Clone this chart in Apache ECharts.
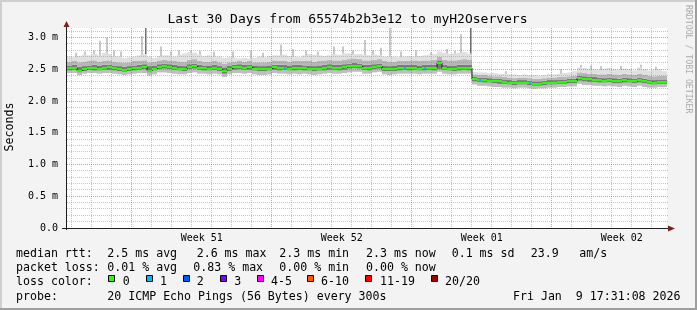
<!DOCTYPE html>
<html><head><meta charset="utf-8">
<script src="https://cdn.jsdelivr.net/npm/echarts@6/dist/echarts.min.js"></script>
<style>html,body{margin:0;padding:0;background:#f3f3f3}#c{width:697px;height:310px}</style>
</head><body><div id="c"></div>
<script>
// ---------- data (one sample per 6 hours, 30 days) ----------
const STEP_DAYS = 0.25;
const median = [
 2.52,2.52,2.48,2.50,2.52,2.52,2.51,2.52,2.53,2.52,
 2.50,2.49,2.50,2.52,2.52,2.54,2.48,2.51,2.54,2.55,
 2.54,2.52,2.51,2.50,2.54,2.55,2.52,2.52,2.51,2.52,
 2.50,2.47,2.51,2.53,2.53,2.52,2.53,2.51,2.50,2.50,
 2.51,2.53,2.52,2.52,2.51,2.52,2.52,2.52,2.51,2.50,
 2.51,2.52,2.53,2.52,2.52,2.53,2.55,2.55,2.55,2.52,
 2.52,2.54,2.55,2.50,2.50,2.51,2.52,2.52,2.52,2.52,
 2.51,2.52,2.52,2.52,2.60,2.52,2.51,2.51,2.52,2.52,
 2.52,2.34,2.33,2.33,2.32,2.31,2.31,2.30,2.29,2.28,
 2.29,2.29,2.28,2.27,2.27,2.28,2.29,2.29,2.30,2.30,
 2.31,2.31,2.36,2.34,2.34,2.33,2.33,2.32,2.33,2.32,
 2.31,2.33,2.32,2.31,2.33,2.31,2.30,2.29,2.30,2.30];
const smokeMin = [
 2.44,2.44,2.41,2.43,2.44,2.44,2.43,2.44,2.44,2.43,
 2.42,2.41,2.42,2.43,2.44,2.44,2.40,2.42,2.45,2.45,
 2.44,2.43,2.42,2.42,2.44,2.45,2.43,2.43,2.42,2.43,
 2.42,2.38,2.42,2.44,2.44,2.43,2.44,2.42,2.41,2.41,
 2.42,2.44,2.43,2.43,2.42,2.43,2.42,2.43,2.42,2.41,
 2.42,2.43,2.44,2.43,2.43,2.44,2.45,2.46,2.46,2.43,
 2.43,2.45,2.46,2.42,2.41,2.42,2.43,2.43,2.43,2.43,
 2.42,2.43,2.43,2.43,2.46,2.43,2.42,2.42,2.43,2.43,
 2.43,2.26,2.24,2.24,2.23,2.22,2.22,2.21,2.21,2.20,
 2.21,2.21,2.20,2.19,2.20,2.20,2.21,2.21,2.22,2.22,
 2.23,2.23,2.27,2.25,2.25,2.24,2.24,2.23,2.24,2.23,
 2.22,2.24,2.23,2.22,2.24,2.22,2.21,2.21,2.22,2.22];
const smokeCoreLow = [
 2.48,2.49,2.45,2.47,2.49,2.48,2.48,2.49,2.49,2.48,
 2.47,2.46,2.47,2.48,2.49,2.50,2.45,2.48,2.50,2.51,
 2.50,2.49,2.48,2.47,2.50,2.51,2.49,2.48,2.48,2.49,
 2.47,2.43,2.47,2.49,2.50,2.49,2.49,2.48,2.47,2.47,
 2.48,2.49,2.48,2.49,2.48,2.48,2.49,2.48,2.48,2.47,
 2.48,2.48,2.49,2.49,2.48,2.49,2.51,2.52,2.51,2.49,
 2.48,2.50,2.51,2.47,2.47,2.47,2.48,2.49,2.48,2.49,
 2.48,2.48,2.49,2.48,2.50,2.49,2.48,2.47,2.48,2.49,
 2.48,2.31,2.30,2.29,2.29,2.28,2.27,2.27,2.26,2.25,
 2.26,2.26,2.25,2.24,2.24,2.25,2.26,2.26,2.27,2.27,
 2.28,2.28,2.32,2.31,2.30,2.30,2.29,2.29,2.30,2.28,
 2.28,2.29,2.29,2.28,2.29,2.28,2.27,2.26,2.27,2.27];
const smokeCoreHigh = [
 2.56,2.57,2.54,2.55,2.56,2.57,2.56,2.57,2.57,2.56,
 2.55,2.54,2.55,2.56,2.57,2.58,2.55,2.56,2.58,2.59,
 2.58,2.57,2.56,2.55,2.58,2.59,2.57,2.56,2.56,2.57,
 2.55,2.53,2.56,2.57,2.58,2.57,2.57,2.56,2.55,2.55,
 2.56,2.57,2.57,2.57,2.56,2.57,2.57,2.56,2.56,2.55,
 2.56,2.57,2.58,2.57,2.57,2.58,2.59,2.60,2.59,2.57,
 2.57,2.58,2.59,2.56,2.55,2.56,2.57,2.57,2.57,2.57,
 2.56,2.57,2.57,2.57,2.64,2.57,2.56,2.56,2.57,2.57,
 2.57,2.38,2.37,2.37,2.36,2.35,2.35,2.34,2.33,2.32,
 2.33,2.33,2.32,2.31,2.31,2.32,2.33,2.33,2.34,2.34,
 2.35,2.35,2.40,2.39,2.38,2.38,2.37,2.36,2.37,2.36,
 2.35,2.37,2.36,2.35,2.37,2.35,2.34,2.33,2.34,2.34];
const smokeUpper = [
 2.62,2.63,2.61,2.62,2.63,2.64,2.62,2.63,2.64,2.62,
 2.61,2.60,2.61,2.63,2.63,2.64,2.61,2.62,2.64,2.65,
 2.64,2.63,2.62,2.62,2.65,2.66,2.63,2.62,2.62,2.63,
 2.61,2.59,2.61,2.62,2.63,2.62,2.63,2.61,2.61,2.61,
 2.62,2.64,2.63,2.63,2.62,2.63,2.63,2.63,2.63,2.62,
 2.63,2.64,2.65,2.64,2.64,2.65,2.66,2.67,2.66,2.64,
 2.64,2.65,2.66,2.63,2.62,2.62,2.63,2.63,2.63,2.64,
 2.63,2.64,2.64,2.65,2.70,2.65,2.64,2.64,2.65,2.66,
 2.65,2.42,2.41,2.41,2.40,2.39,2.39,2.38,2.37,2.36,
 2.37,2.37,2.36,2.35,2.35,2.36,2.37,2.37,2.38,2.38,
 2.39,2.40,2.45,2.44,2.43,2.43,2.42,2.42,2.43,2.42,
 2.41,2.43,2.42,2.41,2.43,2.41,2.40,2.39,2.40,2.40];
const smokeMax = [
 2.70,2.69,2.71,2.73,2.72,2.74,2.72,2.76,2.74,2.71,
 2.70,2.68,2.69,2.70,2.72,2.74,2.70,2.68,2.71,2.72,
 2.72,2.70,2.73,2.75,2.77,2.76,2.73,2.71,2.72,2.70,
 2.70,2.68,2.69,2.68,2.67,2.68,2.67,2.68,2.70,2.69,
 2.71,2.72,2.72,2.73,2.71,2.70,2.69,2.72,2.74,2.73,
 2.72,2.71,2.72,2.74,2.73,2.75,2.75,2.74,2.74,2.73,
 2.72,2.73,2.72,2.70,2.71,2.70,2.69,2.70,2.71,2.70,
 2.71,2.72,2.73,2.74,2.78,2.76,2.74,2.75,2.76,2.77,
 2.75,2.46,2.45,2.45,2.44,2.44,2.43,2.43,2.42,2.42,
 2.41,2.42,2.41,2.41,2.40,2.41,2.42,2.42,2.43,2.44,
 2.45,2.47,2.53,2.52,2.51,2.50,2.49,2.51,2.52,2.50,
 2.49,2.51,2.50,2.48,2.53,2.50,2.48,2.49,2.50,2.47];
// single outlier pings (day from start, top value in ms, number of pings in the outlier)
const spikeDays = [0.40,0.85,1.30,1.60,1.95,2.30,2.65,3.70,3.90,4.65,5.15,5.55,6.15,6.60,7.30,8.25,9.15,9.75,10.65,11.25,11.90,12.50,13.30,13.75,14.25,14.85,15.25,15.65,16.10,16.65,17.40,18.15,18.95,19.35,19.65,20.15,21.90,24.65,25.65,26.15,26.65,27.65,28.65,29.40];
const spikeTops = [2.76,2.78,2.80,2.95,3.00,2.80,2.78,3.02,3.15,2.86,2.78,2.80,2.80,2.79,2.78,2.78,2.80,2.76,2.89,2.82,2.80,2.78,2.86,2.86,2.80,2.96,2.80,2.84,3.15,2.78,2.80,2.77,2.82,2.79,3.05,3.15,2.47,2.50,2.57,2.56,2.55,2.55,2.57,2.54];
const spikePings = [1,1,1,1,1,1,1,1,3,1,1,1,1,1,1,1,1,1,1,1,1,1,1,1,1,1,1,1,1,1,1,1,1,1,1,3,1,1,1,1,1,1,1,1];
// samples with 1/20 packet loss (sample index)
const lossSamples = [43,67,71,82,92];

const yTickValues = [0,0.5,1.0,1.5,2.0,2.5,3.0];
const weekLabels = ['Week 51','Week 52','Week 01','Week 02'];
const weekCenterDays = [6.735,13.735,20.735,27.735];
const firstMidnightDay = 0.235;
const sundayDays = [3.235,10.235,17.235,24.235];

const titleText = 'Last 30 Days from 65574b2b3e12 to myH2Oservers';
const lossLegendLabels = ['0','1','2','3','4-5','6-10','11-19','20/20'];
const lossLegendColors = ['#26ff00','#00b8ff','#0059ff','#7e00ff','#ff00ff','#ff5500','#ff0000','#a00000'];

// ---------- chart ----------
const FONT = "'DejaVu Sans Mono', monospace";
const GL = 67, GT = 28, GW = 600, GH = 200;
const chart = echarts.init(document.getElementById('c'), null, {renderer:'canvas', width:697, height:310});

const smokeData = median.map((m,i)=>[i*STEP_DAYS, smokeMin[i], smokeCoreLow[i], smokeCoreHigh[i], smokeUpper[i], smokeMax[i]]);
const spikeData = spikeDays.map((d,k)=>[d, spikeTops[k], smokeUpper[Math.min(median.length-1, Math.floor(d/STEP_DAYS))], spikePings[k]]);
const medianBlocks = median.map((m,i)=>[i*STEP_DAYS, m, lossSamples.indexOf(i) >= 0 ? 1 : 0]);
const medianLine = median.map((m,i)=>[i*STEP_DAYS + STEP_DAYS/2, m]);

const gridData = [];
for (let k = 0; k < 30; k++) {
  const d = firstMidnightDay + k;
  const major = sundayDays.some(s => Math.abs(s - d) < 1e-6);
  gridData.push([major ? 1 : 0, d]);
}
for (let k = 1; k <= 31; k++) gridData.push([k % 5 === 0 ? 3 : 2, k/10]);

const smokeColors = ['#bfbfbf','#7a7a7a','#b6b6b6','#e0e0e0'];

function smokeItem(params, api) {
  const x0 = api.value(0), x1 = x0 + STEP_DAYS;
  const levels = [api.value(1), api.value(2), api.value(3), api.value(4), api.value(5)];
  const children = [];
  for (let b = 0; b < 4; b++) {
    const p0 = api.coord([x0, levels[b+1]]);
    const p1 = api.coord([x1, levels[b]]);
    children.push({type:'rect', shape:{x:p0[0], y:p0[1], width:p1[0]-p0[0], height:p1[1]-p0[1]}, style:{fill:smokeColors[b]}});
  }
  return {type:'group', children};
}
function spikeItem(params, api) {
  const x = api.value(0);
  const pTop = api.coord([x, api.value(1)]);
  const pBase = api.coord([x, api.value(2)]);
  const many = api.value(3) > 1;
  const px = Math.floor(pTop[0]);
  return {type:'rect', shape:{x:px, y:pTop[1], width:many ? 1.5 : 2, height:pBase[1]-pTop[1]}, style:{fill: many ? '#6e6e6e' : '#c8c8c8'}};
}
function gridItem(params, api) {
  const kind = api.value(0), v = api.value(1);
  const cs = params.coordSys;
  let shape;
  if (kind < 2) {
    const x = Math.floor(api.coord([v, 0])[0]) + 0.5;
    shape = {x1:x, y1:cs.y, x2:x, y2:cs.y + cs.height};
  } else {
    const y = Math.floor(api.coord([0, v])[1]) + 0.5;
    shape = {x1:cs.x, y1:y, x2:cs.x + cs.width + 1, y2:y};
  }
  const major = kind === 1 || kind === 3;
  return {type:'line', shape, style:{stroke: major ? 'rgba(222,79,79,0.6)' : 'rgba(143,143,143,0.5)', lineWidth:1, lineDash:[1,1]}};
}
function medianItem(params, api) {
  const x0 = api.value(0), m = api.value(1), loss = api.value(2);
  const p0 = api.coord([x0, m]);
  const p1 = api.coord([x0 + STEP_DAYS, m]);
  const y = Math.round(p0[1]) - 1;
  const children = [{type:'rect', shape:{x:p0[0], y:y, width:p1[0]-p0[0], height:2}, style:{fill:lossLegendColors[0]}}];
  if (loss > 0) {
    const cx = Math.round((p0[0]+p1[0])/2) - 1;
    children.push({type:'rect', shape:{x:cx, y:y, width:2, height:2}, style:{fill:lossLegendColors[loss]}});
  }
  return {type:'group', children};
}

// ---------- text & decorations ----------
const graphics = [];
graphics.push({type:'rect', shape:{x:0,y:0,width:697,height:2}, style:{fill:'#cfcfcf'}, silent:true});
graphics.push({type:'rect', shape:{x:0,y:0,width:2,height:310}, style:{fill:'#cfcfcf'}, silent:true});
graphics.push({type:'rect', shape:{x:0,y:308,width:697,height:2}, style:{fill:'#9e9e9e'}, silent:true});
graphics.push({type:'rect', shape:{x:695,y:0,width:2,height:310}, style:{fill:'#9e9e9e'}, silent:true});
graphics.push({type:'text', x:347.5, y:20, style:{text:titleText, fontFamily:FONT, fontSize:13, fill:'#000', align:'center', verticalAlign:'middle'}});
graphics.push({type:'text', x:10, y:127, rotation:Math.PI/2, style:{text:'Seconds', fontFamily:FONT, fontSize:11.6, fill:'#000', align:'center', verticalAlign:'middle'}});
graphics.push({type:'text', x:688, y:5, rotation:-Math.PI/2, style:{text:'RRDTOOL / TOBI OETIKER', fontFamily:FONT, fontSize:8.2, fill:'#ababab', align:'left', verticalAlign:'middle'}});
const legendFont = {fontFamily:FONT, fontSize:11.6, fill:'#000', align:'left', verticalAlign:'middle'};
function addText(t, x, y, extra) { graphics.push({type:'text', x, y, style:Object.assign({text:t}, legendFont, extra||{})}); }
const row = [254, 268.3, 282, 297];
addText('median rtt:', 16, row[0]);
addText('2.5 ms avg', 107.3, row[0]);
addText('2.6 ms max', 196.7, row[0]);
addText('2.3 ms min', 279.3, row[0]);
addText('2.3 ms now', 366, row[0]);
addText('0.1 ms sd', 451.7, row[0]);
addText('23.9', 530.7, row[0]);
addText('am/s', 579.3, row[0]);
addText('packet loss:', 16, row[1]);
addText('0.01 % avg', 107.3, row[1]);
addText('0.83 % max', 193.3, row[1]);
addText('0.00 % min', 279.3, row[1]);
addText('0.00 % now', 366, row[1]);
addText('loss color:', 16, row[2]);
const boxX = [108, 145.5, 183, 220, 257, 306.5, 365, 430.5];
const boxLabelX = [122.7, 160, 196.7, 234.3, 271, 321, 380, 445];
lossLegendLabels.forEach((lab, k) => {
  graphics.push({type:'rect', shape:{x:Math.round(boxX[k])+0.5, y:275.5, width:6, height:6}, style:{fill:lossLegendColors[k], stroke:'#000', lineWidth:1}});
  addText(lab, boxLabelX[k], row[2]);
});
addText('probe:', 16, row[3]);
addText('20 ICMP Echo Pings (56 Bytes) every 300s', 107.3, row[3]);
addText('Fri Jan  9 17:31:08 2026', 680.5, row[3], {align:'right'});
graphics.push({type:'line', z:100, shape:{x1:66.5, y1:230, x2:66.5, y2:25}, style:{stroke:'#1f1f1f', lineWidth:1}});
graphics.push({type:'line', z:100, shape:{x1:62, y1:228.5, x2:669, y2:228.5}, style:{stroke:'#1f1f1f', lineWidth:1}});
graphics.push({type:'polygon', z:101, shape:{points:[[66.5,21],[63.5,27],[69.5,27]]}, style:{fill:'#801f1f'}});
graphics.push({type:'polygon', z:101, shape:{points:[[675,228.5],[668,225.5],[668,231.5]]}, style:{fill:'#801f1f'}});

chart.setOption({
  backgroundColor:'#f3f3f3',
  animation:false,
  grid:{left:GL, top:GT, width:GW, height:GH, show:true, backgroundColor:'#ffffff', borderWidth:0},
  xAxis:{type:'value', min:0, max:30,
    axisLine:{show:false}, axisTick:{show:false}, splitLine:{show:false},
    axisLabel:{customValues:weekCenterDays, margin:5, fontFamily:FONT, fontSize:10, color:'#000',
      formatter:(v)=>{ let best=0; weekCenterDays.forEach((d,k)=>{ if (Math.abs(d-v) < Math.abs(weekCenterDays[best]-v)) best=k; }); return weekLabels[best]; }}},
  yAxis:{type:'value', min:0, max:3.15,
    axisLine:{show:false}, axisTick:{show:false}, splitLine:{show:false},
    axisLabel:{customValues:yTickValues, margin:9, fontFamily:FONT, fontSize:10, color:'#000',
      formatter:(v)=> v === 0 ? '0.0' : v.toFixed(1) + ' m'}},
  graphic:graphics,
  series:[
    {type:'custom', name:'outliers', renderItem:spikeItem, data:spikeData, z:1, silent:true, clip:true},
    {type:'custom', name:'smoke', renderItem:smokeItem, data:smokeData, z:2, silent:true, clip:true},
    {type:'custom', name:'grid', renderItem:gridItem, data:gridData, z:3, silent:true},
    {type:'line', name:'median steps', data:medianLine, step:'middle', symbol:'none', z:4, silent:true,
      lineStyle:{color:'#1f1f1f', width:1}},
    {type:'custom', name:'median', renderItem:medianItem, data:medianBlocks, z:5, silent:true}
  ]
});
</script>
</body></html>
